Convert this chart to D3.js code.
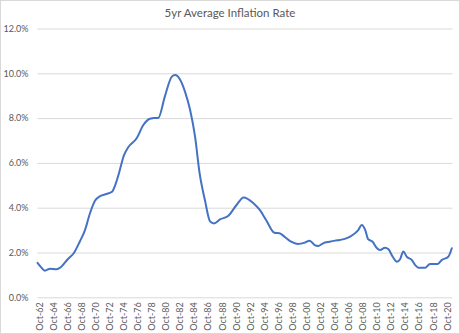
<!DOCTYPE html>
<html>
<head>
<meta charset="utf-8">
<script src="https://cdn.jsdelivr.net/npm/d3@7"></script>
<style>
  html, body { margin: 0; padding: 0; background: #fff; }
  svg { display: block; }
</style>
</head>
<body>
<svg id="chart" width="460" height="334"></svg>
<script>
// ---- data (decimal year, percent) ----
const years = [1962.5, 1963.0, 1963.56, 1964.27, 1965.2, 1965.8, 1966.8, 1967.7, 1968.5, 1969.25,
  1969.96, 1970.67, 1971.4, 1972.3, 1973.1, 1973.6, 1974.0, 1974.8, 1975.4, 1976.6,
  1977.55, 1978.4, 1979.0, 1979.7, 1980.6, 1981.6, 1982.05, 1982.8, 1983.5, 1984.2,
  1984.9, 1985.55, 1986.3, 1987.05, 1987.6, 1988.45, 1989.6, 1990.8, 1991.8, 1993.2,
  1994.1, 1995.0, 1996.2, 1996.9, 1997.6, 1998.55, 1999.5, 2000.5, 2001.2, 2001.9,
  2002.4, 2003.1, 2004.0, 2004.8, 2005.5, 2006.4, 2007.3, 2008.1, 2008.6, 2009.1,
  2009.5, 2010.15, 2010.7, 2011.2, 2011.9, 2012.4, 2013.0, 2013.6, 2014.05, 2014.5,
  2015.0, 2015.7, 2016.2, 2016.65, 2017.6, 2018.3, 2019.4, 2020.0, 2020.9, 2021.4];
const rates = [1.54, 1.35, 1.19, 1.28, 1.25, 1.34, 1.70, 1.99, 2.48, 3.00,
  3.75, 4.31, 4.52, 4.61, 4.71, 5.05, 5.45, 6.35, 6.70, 7.10,
  7.69, 7.96, 8.00, 8.02, 8.96, 9.85, 9.92, 9.70, 9.15, 8.36,
  7.17, 5.53, 4.34, 3.38, 3.30, 3.48, 3.63, 4.12, 4.46, 4.20,
  3.90, 3.45, 2.88, 2.86, 2.71, 2.48, 2.38, 2.44, 2.53, 2.33,
  2.29, 2.41, 2.48, 2.53, 2.56, 2.63, 2.78, 3.00, 3.23, 3.00,
  2.60, 2.48, 2.21, 2.11, 2.21, 2.14, 1.81, 1.59, 1.70, 2.04,
  1.81, 1.67, 1.44, 1.32, 1.32, 1.49, 1.49, 1.67, 1.81, 2.19];
const tickLabels = ["Oct-62","Oct-64","Oct-66","Oct-68","Oct-70","Oct-72","Oct-74","Oct-76","Oct-78","Oct-80",
  "Oct-82","Oct-84","Oct-86","Oct-88","Oct-90","Oct-92","Oct-94","Oct-96","Oct-98","Oct-00",
  "Oct-02","Oct-04","Oct-06","Oct-08","Oct-10","Oct-12","Oct-14","Oct-16","Oct-18","Oct-20"];
const yTicks = [0, 2, 4, 6, 8, 10, 12];
const title = "5yr Average Inflation Rate";

// ---- drawing ----
const svg = d3.select("#chart");
const font = "Lato, 'Open Sans', sans-serif";

svg.append("rect").attr("x", 0.5).attr("y", 0.5).attr("width", 459).attr("height", 333)
  .attr("fill", "#fff").attr("stroke", "#d9d9d9");

const x = d3.scaleLinear().domain([1962.5, 2021.5]).range([37.5, 452.5]);
const y = d3.scaleLinear().domain([0, 12]).range([297.3, 28.5]);

// tick year positions: October of each labelled year
const tickYears = tickLabels.map(s => {
  const yy = +s.slice(4);
  return (yy >= 50 ? 1900 + yy : 2000 + yy) + 0.75;
});

// gridlines + y labels
const yAxis = d3.axisLeft(y).tickValues(yTicks).tickSize(-(x.range()[1] - x.range()[0]))
  .tickFormat(d => d.toFixed(1) + "%").tickPadding(9);
const gy = svg.append("g").attr("transform", `translate(${x.range()[0]},0)`).call(yAxis);
gy.select(".domain").remove();
gy.selectAll(".tick line").attr("stroke", "#d9d9d9").attr("stroke-width", 1);
gy.selectAll(".tick text").attr("fill", "#595959").style("font-family", font).style("font-size", "9px");

// x labels
const xAxis = d3.axisBottom(x).tickValues(tickYears).tickSize(0)
  .tickFormat((d, i) => tickLabels[i]);
const gx = svg.append("g").attr("transform", `translate(0,${y(0)})`).call(xAxis);
gx.select(".domain").remove();
gx.selectAll(".tick text")
  .attr("fill", "#595959").style("font-family", font).style("font-size", "9px")
  .attr("transform", "rotate(-90)")
  .attr("text-anchor", "end")
  .attr("x", -5).attr("y", 0).attr("dy", "0.32em");

// line
const pts = years.map((yr, i) => [yr, rates[i]]);
const line = d3.line().x(d => x(d[0])).y(d => y(d[1])).curve(d3.curveMonotoneX);
svg.append("path").datum(pts).attr("d", line)
  .attr("fill", "none").attr("stroke", "#4472C4").attr("stroke-width", 2)
  .attr("stroke-linejoin", "round").attr("stroke-linecap", "round");

// title
svg.append("text").attr("x", 230).attr("y", 17).attr("text-anchor", "middle")
  .attr("fill", "#595959").style("font-family", font).style("font-size", "11.5px")
  .text(title);
</script>
</body>
</html>
